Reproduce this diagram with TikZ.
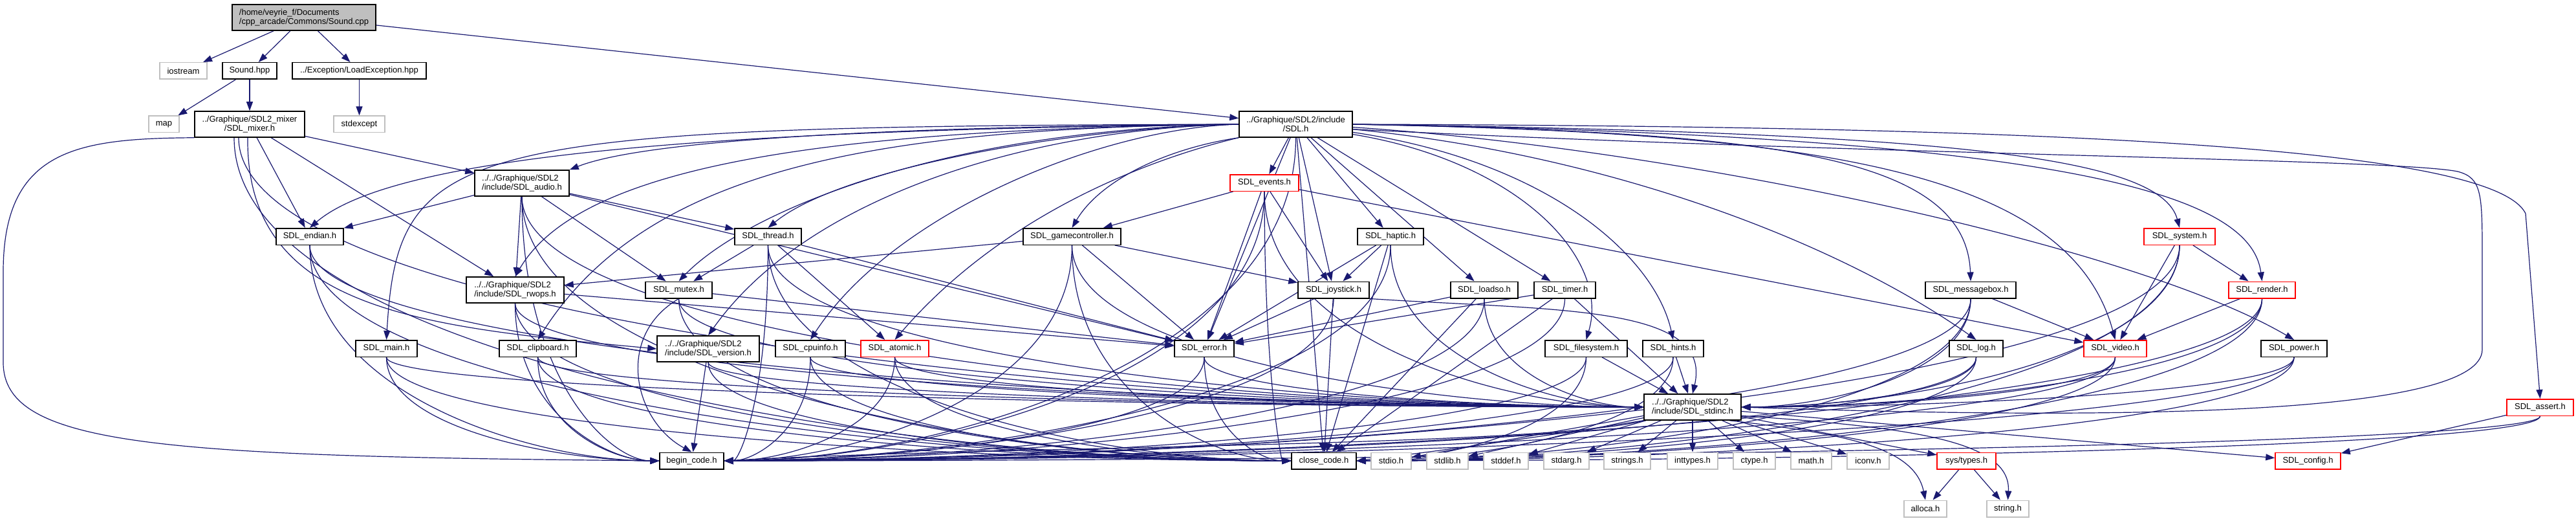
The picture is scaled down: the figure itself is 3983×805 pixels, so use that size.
\documentclass[tikz,border=0pt]{standalone}
\usepackage{fontspec}
\setmainfont{Liberation Sans}
\usetikzlibrary{arrows.meta,calc}
\definecolor{edgec}{HTML}{191970}
\definecolor{grayb}{HTML}{BFBFBF}
\definecolor{redb}{HTML}{FF0000}
\pgfdeclarelayer{edgelayer}
\pgfsetlayers{edgelayer,main}
\tikzset{
 box/.style={draw=black, line width=1.5pt, fill=white, inner sep=0pt, font=\fontsize{13}{14.5}\selectfont, minimum height=25.5pt},
 boxg/.style={box, draw=grayb},
 boxr/.style={box, draw=redb},
 twoline/.style={minimum height=40pt, align=left},
 twolinec/.style={minimum height=40pt, align=center},
 edg/.style={draw=edgec, line width=1.2pt, -{Triangle[length=14pt,width=10pt]}},
}
\newcommand\edgedn[2]{\draw[edg] (#1) .. controls ($(#1)!0.7!(#1|-#2)$) and ($(#2)!0.35!(#1|-#2)$) .. (#2);}
\begin{document}
\begin{tikzpicture}[x=1pt,y=-1pt]
\useasboundingbox (0,0) rectangle (3983,805);
% nodes
\node[box,fill=grayb,twoline,minimum width=222pt] (sc) at (470,27) {/home/veyrie\_f/Documents\\/cpp\_arcade/Commons/Sound.cpp};
\node[boxg,minimum width=73pt] (ios) at (283.5,109.5) {iostream};
\node[box,minimum width=84pt] (shpp) at (386,109.5) {Sound.hpp};
\node[box,minimum width=207pt] (lex) at (555.5,109.5) {../Exception/LoadException.hpp};
\node[boxg,minimum width=47pt] (map) at (253.5,192) {map};
\node[box,twolinec,minimum width=170pt] (mix) at (386,192) {../Graphique/SDL2\_mixer\\/SDL\_mixer.h};
\node[boxg,minimum width=79pt] (sexc) at (555.5,192) {stdexcept};
\node[box,twolinec,minimum width=175pt] (sdl) at (2003.5,192) {../Graphique/SDL2/include\\/SDL.h};
\node[box,twoline,minimum width=146pt] (audio) at (807,283) {../../Graphique/SDL2\\/include/SDL\_audio.h};
\node[boxr,minimum width=106pt] (events) at (1955,282.5) {SDL\_events.h};
\node[boxr,minimum width=110pt] (system) at (3370,365.5) {SDL\_system.h};
\node[box,minimum width=104pt] (endian) at (479,365.5) {SDL\_endian.h};
\node[box,minimum width=103pt] (thread) at (1187.5,365.5) {SDL\_thread.h};
\node[box,minimum width=151pt] (gc) at (1657.5,365.5) {SDL\_gamecontroller.h};
\node[box,minimum width=102pt] (haptic) at (2150,365.5) {SDL\_haptic.h};
\node[box,twoline,minimum width=151pt] (rwops) at (796.5,448) {../../Graphique/SDL2\\/include/SDL\_rwops.h};
\node[box,minimum width=103pt] (mutex) at (1049.5,448) {SDL\_mutex.h};
\node[box,minimum width=110pt] (joy) at (2062,448) {SDL\_joystick.h};
\node[box,minimum width=104pt] (loadso) at (2295,448) {SDL\_loadso.h};
\node[box,minimum width=95pt] (timer) at (2419.5,448) {SDL\_timer.h};
\node[box,minimum width=140pt] (msgbox) at (3047,448) {SDL\_messagebox.h};
\node[boxr,minimum width=103pt] (render) at (3497.5,448) {SDL\_render.h};
\node[box,minimum width=95pt] (main) at (597.5,538.5) {SDL\_main.h};
\node[box,minimum width=119pt] (clip) at (831.5,538.5) {SDL\_clipboard.h};
\node[box,twoline,minimum width=158pt] (version) at (1095,539) {../../Graphique/SDL2\\/include/SDL\_version.h};
\node[box,minimum width=108pt] (cpu) at (1253,538.5) {SDL\_cpuinfo.h};
\node[boxr,minimum width=105pt] (atomic) at (1383.5,538.5) {SDL\_atomic.h};
\node[box,minimum width=92pt] (error) at (1862,538.5) {SDL\_error.h};
\node[box,minimum width=127pt] (fs) at (2452.5,538.5) {SDL\_filesystem.h};
\node[box,minimum width=94pt] (hints) at (2587,538.5) {SDL\_hints.h};
\node[box,minimum width=83pt] (log) at (3055.5,538.5) {SDL\_log.h};
\node[boxr,minimum width=97pt] (video) at (3270.5,538.5) {SDL\_video.h};
\node[box,minimum width=102pt] (power) at (3547,538.5) {SDL\_power.h};
\node[box,twoline,minimum width=150pt] (stdinc) at (2617,629) {../../Graphique/SDL2\\/include/SDL\_stdinc.h};
\node[boxr,minimum width=103pt] (assert) at (3927.5,629.5) {SDL\_assert.h};
\node[box,minimum width=99pt] (begin) at (1069.5,712) {begin\_code.h};
\node[box,minimum width=100pt] (close) at (2047,712) {close\_code.h};
\node[boxg,minimum width=62pt] (stdio) at (2151,712) {stdio.h};
\node[boxg,minimum width=64pt] (stdlib) at (2238,712) {stdlib.h};
\node[boxg,minimum width=69pt] (stddef) at (2328.5,712) {stddef.h};
\node[boxg,minimum width=70pt] (stdarg) at (2422,712) {stdarg.h};
\node[boxg,minimum width=72pt] (strings) at (2516,712) {strings.h};
\node[boxg,minimum width=78pt] (inttypes) at (2617,712) {inttypes.h};
\node[boxg,minimum width=65pt] (ctype) at (2712.5,712) {ctype.h};
\node[boxg,minimum width=63pt] (math) at (2800.5,712) {math.h};
\node[boxg,minimum width=65pt] (iconv) at (2888.5,712) {iconv.h};
\node[boxr,minimum width=91pt] (systypes) at (3040.5,712) {sys/types.h};
\node[boxr,minimum width=101pt] (config) at (3568.5,712) {SDL\_config.h};
\node[boxg,minimum width=66pt] (alloca) at (2977,786) {alloca.h};
\node[boxg,minimum width=65pt] (string) at (3104.5,786) {string.h};
\coordinate (mixa) at ([xshift=-24pt]mix.south);
\coordinate (mixb) at ([xshift=-17pt]mix.south);
\coordinate (mixc) at ([xshift=-3pt]mix.south);
\begin{pgfonlayer}{edgelayer}
% top
\draw[edg] (sc) -- (ios);
\draw[edg] (sc) -- (shpp);
\draw[edg] (sc) -- (lex);
\draw[edg] (sc) -- (sdl);
\draw[edg] (shpp) -- (map);
\draw[edg] (shpp) -- (mix);
\draw[edg] (lex) -- (sexc);
% mixer
\draw[edg] (mix) -- (audio);
\draw[edg] (mix) -- (endian);
\draw[edg] (mix) -- (rwops);
\draw[edg] (mixc) .. controls (380,480) and (650,505) .. (version.west);
\draw[edg] (mix.south west) .. controls (120,214) and (5,230) .. (5,420) -- (5,560) .. controls (5,690) and (250,705) .. (begin.west);
\edgedn{mixa}{close.west}
\edgedn{mixb}{stdinc.west}
% SDL.h left fan
\draw[edg] (sdl.west) .. controls (1400,195) and (1000,215) .. (audio.north east);
\draw[edg] (sdl.west) .. controls (1300,200) and (900,250) .. (rwops.north);
\draw[edg] (sdl.west) .. controls (1200,200) and (620,230) .. (endian.north);
\draw[edg] (sdl.west) .. controls (700,195) and (615,220) .. (main.north);
\draw[edg] (sdl.west) .. controls (1350,198) and (1000,260) .. (clip.north);
\draw[edg] (sdl.west) .. controls (1600,198) and (1250,300) .. (version.north);
\draw[edg] (sdl.west) .. controls (1700,198) and (1380,330) .. (cpu.north);
\draw[edg] (sdl.west) .. controls (1450,200) and (1150,330) .. (mutex.north);
\draw[edg] (sdl.west) .. controls (1650,198) and (1300,260) .. (thread.north);
\draw[edg] (sdl.south west) .. controls (1800,240) and (1560,320) .. (atomic.north);
\draw[edg] (sdl.south west) .. controls (1800,230) and (1700,280) .. (gc.north);
\edgedn{sdl.south}{begin.east}
% SDL.h down / right fan
\draw[edg] (sdl) -- (events);
\draw[edg] (sdl) -- (error);
\draw[edg] (sdl) -- (joy);
\draw[edg] (sdl) -- (close);
\draw[edg] (sdl) -- (haptic);
\draw[edg] (sdl) -- (loadso);
\draw[edg] (sdl) -- (timer);
\draw[edg] (sdl.-10) .. controls (2350,250) and (2490,400) .. (fs.north);
\draw[edg] (sdl.-8) .. controls (2400,250) and (2560,400) .. (hints.north);
\draw[edg] (sdl.-5) .. controls (2500,240) and (2850,380) .. (log.north);
\draw[edg] (sdl.-3) .. controls (2600,230) and (3300,380) .. (power.north);
\draw[edg] (sdl.east) .. controls (2700,205) and (3040,230) .. (msgbox.north);
\draw[edg] (sdl.east) .. controls (2800,205) and (3200,260) .. (video.north);
\draw[edg] (sdl.east) .. controls (3000,205) and (3340,240) .. (system.north);
\draw[edg] (sdl.east) .. controls (3200,210) and (3480,300) .. (render.north);
\draw[edg] (sdl.east) .. controls (3000,195) and (3850,215) .. (3905,330) -- (assert.north);
\draw[edg] (sdl.-5) .. controls (2900,240) and (3700,245) .. (3800,265) .. controls (3838,275) and (3838,300) .. (3838,400) -- (3838,540) .. controls (3838,640) and (3300,650) .. (stdinc.east);
% endian
\edgedn{endian.south}{begin.west}
\edgedn{endian.south}{close.west}
\edgedn{endian.south}{stdinc.west}
% audio
\draw[edg] (audio) -- (endian);
\draw[edg] (audio) -- (rwops);
\draw[edg] (audio) -- (mutex);
\draw[edg] (audio) -- (thread);
\draw[edg] (audio) -- (error);
\edgedn{audio.south}{begin.west}
\edgedn{audio.south}{close.west}
\edgedn{audio.south}{stdinc.west}
% rwops
\draw[edg] (rwops) -- (error);
\edgedn{rwops.south}{begin.west}
\edgedn{rwops.south}{close.west}
\edgedn{rwops.south}{stdinc.west}
% mutex
\draw[edg] (mutex) -- (error);
\draw[edg] (mutex.south) .. controls (950,520) and (980,650) .. (begin.north);
\edgedn{mutex.south}{close.west}
\edgedn{mutex.south}{stdinc.west}
% thread
\draw[edg] (thread) -- (mutex);
\draw[edg] (thread) -- (atomic);
\draw[edg] (thread) -- (error);
\edgedn{thread.south}{begin.east}
\edgedn{thread.south}{close.west}
\edgedn{thread.south}{stdinc.west}
% gamecontroller
\draw[edg] (gc) -- (rwops);
\draw[edg] (gc) -- (joy);
\draw[edg] (gc) -- (error);
\edgedn{gc.south}{begin.east}
\edgedn{gc.south}{close.west}
\edgedn{gc.south}{stdinc.west}
% haptic
\draw[edg] (haptic) -- (joy);
\draw[edg] (haptic) -- (error);
\draw[edg] (haptic) -- (close);
\edgedn{haptic.south}{begin.east}
\edgedn{haptic.south}{stdinc.west}
% joystick
\draw[edg] (joy) -- (error);
\draw[edg] (joy) -- (close);
\edgedn{joy.south}{begin.east}
\draw[edg] (joy.south east) .. controls (2400,480) and (2650,470) .. (stdinc.north);
% loadso
\draw[edg] (loadso) -- (error);
\draw[edg] (loadso) -- (close);
\edgedn{loadso.south}{begin.east}
\edgedn{loadso.south}{stdinc.west}
% timer
\draw[edg] (timer) -- (error);
\draw[edg] (timer) -- (close);
\edgedn{timer.south}{begin.east}
\draw[edg] (timer) -- (stdinc);
% events
\draw[edg] (events) -- (gc);
\draw[edg] (events) -- (joy);
\draw[edg] (events) -- (error);
\draw[edg] (events) -- (video);
\edgedn{events.south}{begin.east}
\edgedn{events.south}{close.west}
\edgedn{events.south}{stdinc.west}
% main, clipboard, version
\edgedn{main.south}{begin.west}
\edgedn{main.south}{close.west}
\edgedn{main.south}{stdinc.west}
\edgedn{clip.south}{begin.west}
\edgedn{clip.south}{close.west}
\edgedn{clip.south}{stdinc.west}
\draw[edg] (version) -- (begin);
\edgedn{version.south}{close.west}
\edgedn{version.south}{stdinc.west}
% cpuinfo, atomic, error
\edgedn{cpu.south}{begin.east}
\edgedn{cpu.south}{close.west}
\edgedn{cpu.south}{stdinc.west}
\edgedn{atomic.south}{begin.east}
\edgedn{atomic.south}{close.west}
\edgedn{atomic.south}{stdinc.west}
\edgedn{error.south}{begin.east}
\edgedn{error.south}{close.west}
\edgedn{error.south}{stdinc.west}
% filesystem, hints
\draw[edg] (fs) -- (stdinc);
\edgedn{fs.south}{begin.east}
\edgedn{fs.south}{close.east}
\draw[edg] (hints) -- (stdinc);
\edgedn{hints.south}{begin.east}
\edgedn{hints.south}{close.east}
% right side nodes
\edgedn{log.south}{stdinc.east}
\edgedn{log.south}{begin.east}
\edgedn{log.south}{close.east}
\edgedn{video.south}{stdinc.east}
\edgedn{video.south}{begin.east}
\edgedn{video.south}{close.east}
\edgedn{power.south}{stdinc.east}
\edgedn{power.south}{begin.east}
\edgedn{power.south}{close.east}
\draw[edg] (msgbox) -- (video);
\edgedn{msgbox.south}{stdinc.east}
\edgedn{msgbox.south}{begin.east}
\edgedn{msgbox.south}{close.east}
\draw[edg] (render) -- (video);
\edgedn{render.south}{stdinc.east}
\edgedn{render.south}{begin.east}
\edgedn{render.south}{close.east}
\draw[edg] (system) -- (render);
\draw[edg] (system) -- (video);
\edgedn{system.south}{stdinc.east}
\edgedn{system.south}{begin.east}
\edgedn{system.south}{close.east}
% assert
\draw[edg] (assert) -- (config);
\edgedn{assert.south}{begin.east}
\edgedn{assert.south}{close.east}
% stdinc
\draw[edg] (stdinc) -- (stdio);
\draw[edg] (stdinc) -- (stdlib);
\draw[edg] (stdinc) -- (stddef);
\draw[edg] (stdinc) -- (stdarg);
\draw[edg] (stdinc) -- (strings);
\draw[edg] (stdinc) -- (inttypes);
\draw[edg] (stdinc) -- (ctype);
\draw[edg] (stdinc) -- (math);
\draw[edg] (stdinc) -- (iconv);
\draw[edg] (stdinc) -- (systypes);
\draw[edg] (stdinc) -- (config);
\draw[edg] (stdinc.-20) .. controls (2850,670) and (2960,690) .. (alloca.north);
\draw[edg] (stdinc.-10) .. controls (2950,660) and (3110,680) .. (string.north);
\draw[edg] (stdinc.south west) .. controls (2400,690) and (1500,690) .. (begin.east);
\draw[edg] (stdinc.south west) .. controls (2350,680) and (2200,700) .. (close.east);
% sys/types
\draw[edg] (systypes) -- (alloca);
\draw[edg] (systypes) -- (string);
\end{pgfonlayer}
\end{tikzpicture}
\end{document}
